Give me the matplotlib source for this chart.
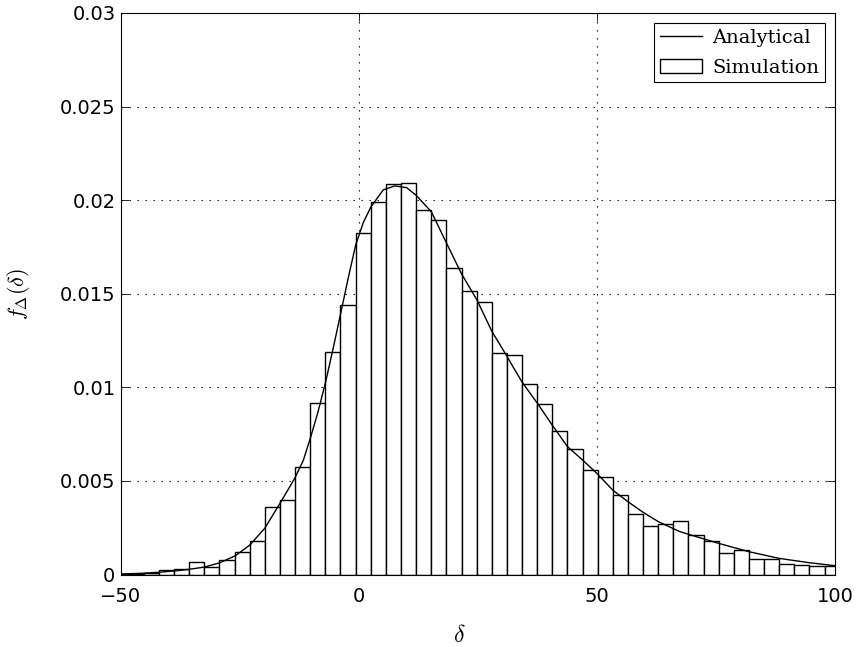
# -*- coding: utf-8 -*-
"""
Histogram of the simulated delay against the analytical density.
"""
import numpy as np
import matplotlib
matplotlib.use('Agg')
import matplotlib.pyplot as plt
import matplotlib.patches as mpatches
from matplotlib.lines import Line2D
from matplotlib.ticker import FixedLocator, FuncFormatter

# =============================================================================
# Data
# =============================================================================
bin_start = -51.56
bin_width = 3.178
sim_density = [
    0.00002, 0.00003, 0.00008, 0.00022, 0.00029, 0.00069, 0.00040, 0.00080,
    0.00120, 0.00180, 0.00362, 0.00398, 0.00572, 0.00918, 0.01187, 0.01441,
    0.01822, 0.01991, 0.02085, 0.02092, 0.01945, 0.01893, 0.01640, 0.01514,
    0.01457, 0.01181, 0.01172, 0.01019, 0.00909, 0.00768, 0.00670, 0.00558,
    0.00522, 0.00426, 0.00321, 0.00261, 0.00268, 0.00288, 0.00211, 0.00181,
    0.00117, 0.00129, 0.00083, 0.00081, 0.00056, 0.00049, 0.00045, 0.00044,
]

curve_x = [-50, -46, -42, -38.3, -35.6, -32.4, -29.2, -26.0, -22.9, -19.8,
           -16.6, -13.5, -11.7, -10.2, -8.6, -7.0, -5.5, -4.0, -2.3, -0.7,
           0.9, 2.5, 5.1, 7.5, 10.0, 12.0, 15.2, 18.4, 21.5, 24.8,
           27.9, 30.3, 34.2, 37.5, 40.6, 43.8, 47.0, 50.1, 53.3, 56.5,
           59.7, 62.9, 67.4, 75.6, 81.9, 88.3, 94.6, 100]
curve_y = [0.00003, 0.00006, 0.00012, 0.00020, 0.00028, 0.00040, 0.00063,
           0.00100, 0.00158, 0.00247, 0.00380, 0.00514, 0.00610, 0.00730,
           0.00870, 0.01030, 0.01200, 0.01377, 0.01580, 0.01760, 0.01880,
           0.01964, 0.02055, 0.02076, 0.02067, 0.02026, 0.01938, 0.01770,
           0.01608, 0.01466, 0.01300, 0.01199, 0.01030, 0.00914, 0.00798,
           0.00683, 0.00611, 0.00537, 0.00451, 0.00389, 0.00332, 0.00282,
           0.00229, 0.00166, 0.00122, 0.00086, 0.00063, 0.00047]

x_ticks = [-50, 0, 50, 100]
y_ticks = [0, 0.005, 0.01, 0.015, 0.02, 0.025, 0.03]

# =============================================================================
# Figure
# =============================================================================
plt.rcParams['mathtext.fontset'] = 'cm'

fig = plt.figure(figsize=(8.58, 6.47), dpi=100)
ax = fig.add_axes([121 / 858, 72.5 / 647, 714 / 858, 561.5 / 647])

# Histogram bars
left_edges = bin_start + bin_width * np.arange(len(sim_density))
ax.bar(left_edges, sim_density, width=bin_width, align='edge',
       facecolor='white', edgecolor='black', linewidth=1.0, zorder=2)

# Analytical curve
ax.plot(curve_x, curve_y, color='black', linewidth=1.0, zorder=3)

# Axes limits and ticks
ax.set_xlim(-50, 100)
ax.set_ylim(0, 0.03)
ax.xaxis.set_major_locator(FixedLocator(x_ticks))
ax.yaxis.set_major_locator(FixedLocator(y_ticks))
ax.yaxis.set_major_formatter(FuncFormatter(lambda v, p: '%g' % v))
ax.tick_params(direction='in', length=6, width=0.6, labelsize=14,
               top=True, right=True)
ax.tick_params(axis='x', pad=9)
ax.tick_params(axis='y', pad=4)

# Dotted grid, MATLAB style
ax.grid(True, color='black', linestyle=(0, (1.2, 6)), linewidth=0.8)
ax.set_axisbelow(True)

for side in ['top', 'bottom', 'left', 'right']:
    ax.spines[side].set_linewidth(0.8)

# Labels
fig.text(459 / 858, 1 - 635 / 647, r'$\delta$', fontsize=17,
         ha='center', va='center')
fig.text(19 / 858, 1 - 294 / 647, r'$f_{\Delta}(\delta)$', fontsize=16,
         ha='center', va='center', rotation=90)

# Legend
handles = [Line2D([], [], color='black', linewidth=1.0),
           mpatches.Patch(facecolor='white', edgecolor='black',
                          linewidth=1.0)]
leg = ax.legend(handles, ['Analytical', 'Simulation'], loc='upper right',
                bbox_to_anchor=(0.986, 0.982), borderaxespad=0,
                fancybox=False, framealpha=1, edgecolor='black',
                prop={'family': 'DejaVu Serif', 'size': 14},
                handlelength=2.2, labelspacing=0.6, borderpad=0.3,
                handletextpad=0.5)
leg.get_frame().set_linewidth(0.8)

plt.savefig('out.png', dpi=100)
